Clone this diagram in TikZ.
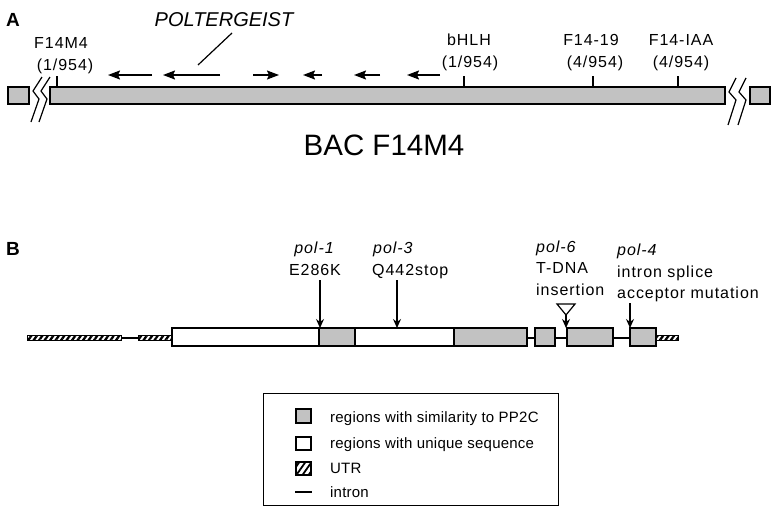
\documentclass[tikz,border=0pt]{standalone}
\usepackage{fontspec}
\setmainfont{Liberation Sans}
\newfontfamily\labA[LetterSpace=6]{Liberation Sans}
\newfontfamily\labB[LetterSpace=1.5]{Liberation Sans}
\usetikzlibrary{arrows.meta,patterns.meta}
\definecolor{boxgray}{gray}{0.76}
\begin{document}
\begin{tikzpicture}[x=1pt,y=-1pt,line join=miter,
  panel/.style={inner sep=0pt,font=\bfseries\fontsize{19}{22}\selectfont},
  lbl/.style={inner sep=0pt,font=\labA\fontsize{16}{19}\selectfont},
  ilbl/.style={inner sep=0pt,font=\labA\itshape\fontsize{16}{19}\selectfont},
  leg/.style={inner sep=0pt,anchor=base west,font=\labB\fontsize{15}{17}\selectfont},
  barbox/.style={draw,line width=1.5pt,fill=boxgray},
  exon/.style={draw,line width=1.3pt,fill=boxgray},
  uexon/.style={draw,line width=1.3pt,fill=white},
  utr/.style={draw,line width=1pt,fill=white,pattern={Lines[angle=55,distance=4.5pt,line width=2.3pt]}},
  intronline/.style={line width=1.2pt},
  brk/.style={line width=1.2pt},
  orf/.style={line width=1.6pt,-{Stealth[length=12pt,width=9pt,inset=2pt]}},
  mut/.style={line width=1.2pt,-{Stealth[length=9pt,width=8pt,inset=3pt]}},
  tick/.style={line width=1.2pt}]
\fill[white] (0,0) rectangle (771,506);
\useasboundingbox (0,0) rectangle (771,506);

% ---------------- Panel A ----------------
\node[panel,anchor=base west] (pA) at (6,27) {A};
\draw[barbox] (8,87) rectangle (29,104);
\draw[barbox] (50,87) rectangle (725,104);
\draw[barbox] (750,87) rectangle (770,104);
% break marks
\draw[brk] (42,77) -- (33,91) -- (39,99) -- (31,122);
\draw[brk] (50,77) -- (41,91) -- (47,99) -- (39,122);
\draw[brk] (736,78) -- (729,92) -- (736,100) -- (728,125);
\draw[brk] (746,78) -- (739,92) -- (746,100) -- (738,125);
% ticks
\coordinate (t1) at (57,87);  \coordinate (t1a) at (57,76);
\coordinate (t2) at (464,87); \coordinate (t2a) at (464,76);
\coordinate (t3) at (593,87); \coordinate (t3a) at (593,76);
\coordinate (t4) at (678,87); \coordinate (t4a) at (678,76);
\draw[tick] (t1a) -- (t1);
\draw[tick] (t2a) -- (t2);
\draw[tick] (t3a) -- (t3);
\draw[tick] (t4a) -- (t4);
% labels
\node[lbl,anchor=base] (m1) at (61,48) {F14M4};
\node[lbl,anchor=base] (m1n) at (65,70) {(1/954)};
\node[lbl,anchor=base] (m2) at (469,45) {bHLH};
\node[lbl,anchor=base] (m2n) at (470,67) {(1/954)};
\node[lbl,anchor=base] (m3) at (591,45) {F14-19};
\node[lbl,anchor=base] (m3n) at (595,67) {(4/954)};
\node[lbl,anchor=base] (m4) at (681,45) {F14-IAA};
\node[lbl,anchor=base] (m4n) at (681,67) {(4/954)};
% POLTERGEIST
\node[inner sep=0pt,anchor=base,font=\itshape\fontsize{20}{23}\selectfont] (polt) at (224,27) {POLTERGEIST};
\coordinate (pl1) at (232,33); \coordinate (pl2) at (198,65);
\draw[line width=1.2pt] (pl1) -- (pl2);
% ORF arrows
\coordinate (o1s) at (152,75); \coordinate (o1e) at (108,75);
\coordinate (o2s) at (220,75); \coordinate (o2e) at (163,75);
\coordinate (o3s) at (253,75); \coordinate (o3e) at (279,75);
\coordinate (o4s) at (322,75); \coordinate (o4e) at (303,75);
\coordinate (o5s) at (380,75); \coordinate (o5e) at (354,75);
\coordinate (o6s) at (440,75); \coordinate (o6e) at (407,75);
\draw[orf] (o1s) -- (o1e);
\draw[orf] (o2s) -- (o2e);
\draw[orf] (o3s) -- (o3e);
\draw[orf] (o4s) -- (o4e);
\draw[orf] (o5s) -- (o5e);
\draw[orf] (o6s) -- (o6e);
\node[inner sep=0pt,anchor=base,font=\fontsize{29.5}{33}\selectfont] (bac) at (384,155) {BAC F14M4};

% ---------------- Panel B ----------------
\node[panel,anchor=base west] (pB) at (6,255) {B};
\draw[intronline] (121,338) -- (138,338);
\draw[intronline] (527,338) -- (535,338);
\draw[intronline] (555,338) -- (567,338);
\draw[intronline] (613,338) -- (630,338);
\draw[utr] (27,335.5) rectangle (121,340.5);
\draw[utr] (138,335.5) rectangle (172,340.5);
\draw[uexon] (172,328) rectangle (319,346);
\draw[exon] (319,328) rectangle (355,346);
\draw[uexon] (355,328) rectangle (454,346);
\draw[exon] (454,328) rectangle (527,346);
\draw[exon] (535,328) rectangle (555,346);
\draw[exon] (567,328) rectangle (613,346);
\draw[exon] (630,328) rectangle (656,346);
\draw[utr] (656,335.5) rectangle (678,340.5);
% mutation labels
\node[ilbl,anchor=base] (p1) at (314,253) {pol-1};
\node[lbl,anchor=base] (p1t) at (315,275) {E286K};
\node[ilbl,anchor=base west] (p3) at (373,253) {pol-3};
\node[lbl,anchor=base west] (p3t) at (372,275) {Q442stop};
\node[ilbl,anchor=base west] (p6) at (536,252) {pol-6};
\node[lbl,anchor=base west] (p6t) at (536,273) {T-DNA};
\node[lbl,anchor=base west] (p6u) at (536,295) {insertion};
\node[ilbl,anchor=base west] (p4) at (617,255) {pol-4};
\node[lbl,anchor=base west] (p4t) at (617,277) {intron splice};
\node[lbl,anchor=base west] (p4u) at (617,298) {acceptor mutation};
% mutation arrows
\coordinate (a1s) at (320,280); \coordinate (a1e) at (320,328);
\coordinate (a3s) at (397,280); \coordinate (a3e) at (397,328);
\coordinate (a4s) at (630,303); \coordinate (a4e) at (630,328);
\coordinate (a6s) at (566,315); \coordinate (a6e) at (566,328);
\draw[mut] (a1s) -- (a1e);
\draw[mut] (a3s) -- (a3e);
\draw[mut] (a4s) -- (a4e);
\draw[line width=1.2pt,fill=white] (557,304) -- (575,304) -- (a6s) -- cycle;
\draw[mut] (a6s) -- (a6e);

% ---------------- Legend ----------------
\draw[line width=1pt] (263,393) rectangle (558,505);
\draw[exon] (296,409) rectangle (311,423);
\draw[uexon] (296,437) rectangle (311,450);
\draw[line width=1.3pt,fill=white,pattern={Lines[angle=55,distance=5pt,line width=1.8pt]}] (296,462) rectangle (311,475);
\draw[intronline] (295,492) -- (312,492);
\node[leg] (l1) at (330,422) {regions with similarity to PP2C};
\node[leg] (l2) at (330,448) {regions with unique sequence};
\node[leg] (l3) at (330,473) {UTR};
\node[leg] (l4) at (330,497) {intron};
\end{tikzpicture}
\end{document}
